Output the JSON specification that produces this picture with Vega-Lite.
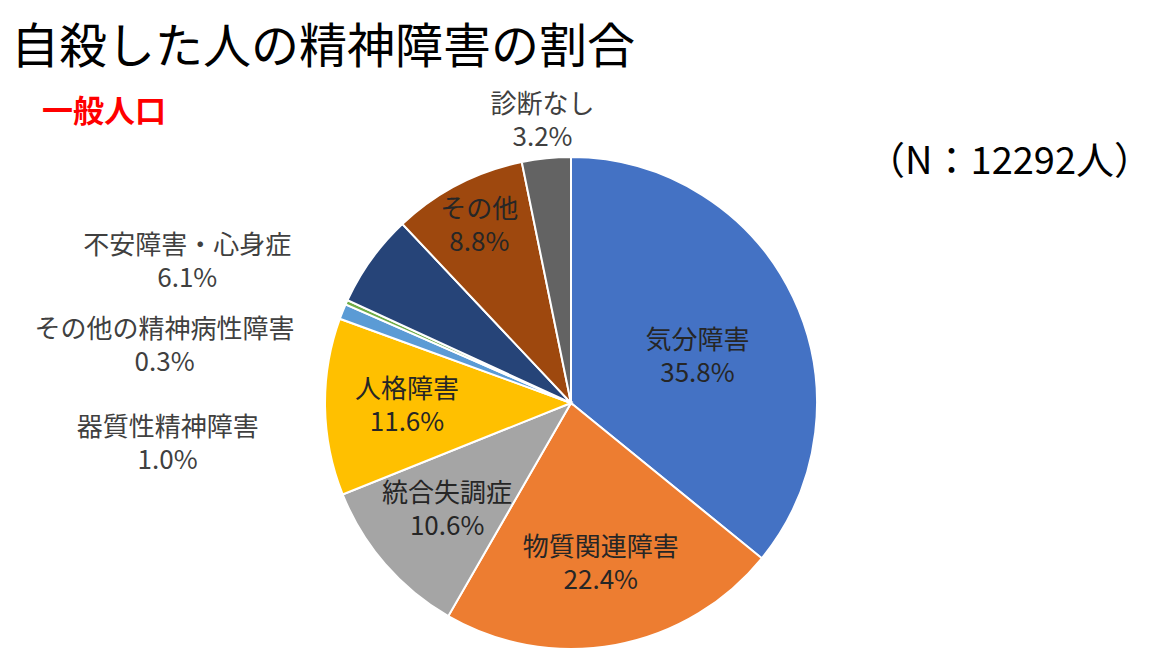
{
  "$schema": "https://vega.github.io/schema/vega-lite/v6.json",
  "padding": {"left": 11, "top": 25, "right": 0, "bottom": 0},
  "background": "white",
  "title": {
    "text": "自殺した人の精神障害の割合",
    "subtitle": "\u200b\u3000一般人口",
    "anchor": "start",
    "frame": "group",
    "offset": -36,
    "font": "Noto Sans CJK JP",
    "fontSize": 48,
    "fontWeight": "normal",
    "color": "#000000",
    "subtitleFont": "Noto Sans CJK JP",
    "subtitleFontSize": 31,
    "subtitleFontWeight": "bold",
    "subtitleColor": "#FF0000",
    "subtitlePadding": 25
  },
  "data": {
    "values": [
      {"label": "気分障害", "share": 0.358},
      {"label": "物質関連障害", "share": 0.224},
      {"label": "統合失調症", "share": 0.106},
      {"label": "人格障害", "share": 0.116},
      {"label": "器質性精神障害", "share": 0.010},
      {"label": "その他の精神病性障害", "share": 0.003},
      {"label": "不安障害・心身症", "share": 0.061},
      {"label": "その他", "share": 0.088},
      {"label": "診断なし", "share": 0.032}
    ]
  },
  "transform": [
    {"window": [{"op": "row_number", "as": "idx"}]},
    {"calculate": "[datum.label, format(datum.share, '.1%')]", "as": "txt"}
  ],
  "vconcat": [
    {
      "width": 1120,
      "height": 492,
      "title": {
        "text": "（N：12292人）",
        "anchor": "end",
        "frame": "group",
        "offset": -90,
        "dx": 21,
        "font": "Noto Sans CJK JP",
        "fontSize": 38,
        "fontWeight": "normal",
        "color": "#000000"
      },
      "encoding": {
        "theta": {"field": "share", "type": "quantitative", "stack": true},
        "order": {"field": "idx", "type": "quantitative"}
      },
      "layer": [
        {
          "mark": {"type": "arc", "outerRadius": 246, "stroke": "white", "strokeWidth": 2},
          "encoding": {
            "color": {
              "field": "label",
              "type": "nominal",
              "legend": null,
              "sort": null,
              "scale": {
                "domain": ["気分障害", "物質関連障害", "統合失調症", "人格障害", "器質性精神障害", "その他の精神病性障害", "不安障害・心身症", "その他", "診断なし"],
                "range": ["#4472C4", "#ED7D31", "#A5A5A5", "#FFC000", "#5B9BD5", "#70AD47", "#264478", "#9E480E", "#636363"]
              }
            }
          }
        },
        {
          "mark": {"type": "text", "radius": 140, "dy": -2, "fontSize": 26, "lineHeight": 33, "color": "#262626"},
          "encoding": {
            "text": {"condition": {"test": "datum.label === '気分障害'", "field": "txt"}, "value": ""}
          }
        },
        {
          "mark": {"type": "text", "radius": 164, "dy": -16, "fontSize": 26, "lineHeight": 33, "color": "#262626"},
          "encoding": {
            "text": {"condition": {"test": "indexof(['物質関連障害', '統合失調症', '人格障害'], datum.label) >= 0", "field": "txt"}, "value": ""}
          }
        },
        {
          "mark": {"type": "text", "radius": 199, "dy": -16, "fontSize": 26, "lineHeight": 33, "color": "#262626"},
          "encoding": {
            "text": {"condition": {"test": "datum.label === 'その他'", "field": "txt"}, "value": ""}
          }
        },
        {
          "mark": {"type": "text", "radius": 283, "dy": -16, "fontSize": 26, "lineHeight": 33, "color": "#404040"},
          "encoding": {
            "text": {"condition": {"test": "datum.label === '診断なし'", "field": "txt"}, "value": ""}
          }
        },
        {
          "mark": {"type": "text", "radius": 246, "dx": -184, "dy": -13, "fontSize": 26, "lineHeight": 33, "color": "#404040"},
          "encoding": {
            "text": {"condition": {"test": "datum.label === '不安障害・心身症'", "field": "txt"}, "value": ""}
          }
        },
        {
          "mark": {"type": "text", "radius": 246, "dx": -182, "dy": 28, "fontSize": 26, "lineHeight": 33, "color": "#404040"},
          "encoding": {
            "text": {"condition": {"test": "datum.label === 'その他の精神病性障害'", "field": "txt"}, "value": ""}
          }
        },
        {
          "mark": {"type": "text", "radius": 246, "dx": -175, "dy": 116, "fontSize": 26, "lineHeight": 33, "color": "#404040"},
          "encoding": {
            "text": {"condition": {"test": "datum.label === '器質性精神障害'", "field": "txt"}, "value": ""}
          }
        }
      ]
    }
  ],
  "config": {
    "font": "Noto Sans CJK JP",
    "view": {"stroke": null}
  }
}
